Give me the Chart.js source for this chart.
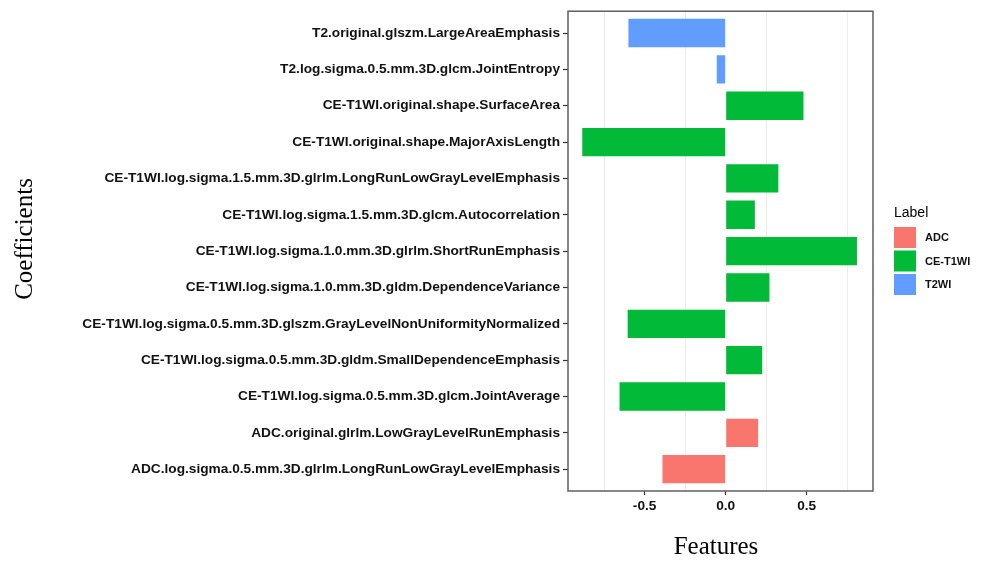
<!DOCTYPE html>
<html>
<head>
<meta charset="utf-8">
<script src="https://cdn.jsdelivr.net/npm/chart.js@4.4.1/dist/chart.umd.min.js"></script>
<style>
  html, body { margin: 0; padding: 0; background: #ffffff; }
  #wrap { width: 987px; height: 562px; position: relative; }
</style>
</head>
<body>
<div id="wrap"><canvas id="chart" width="987" height="562"></canvas></div>
<script>
// Radiomic features, listed top to bottom
const features = [
  'T2.original.glszm.LargeAreaEmphasis',
  'T2.log.sigma.0.5.mm.3D.glcm.JointEntropy',
  'CE-T1WI.original.shape.SurfaceArea',
  'CE-T1WI.original.shape.MajorAxisLength',
  'CE-T1WI.log.sigma.1.5.mm.3D.glrlm.LongRunLowGrayLevelEmphasis',
  'CE-T1WI.log.sigma.1.5.mm.3D.glcm.Autocorrelation',
  'CE-T1WI.log.sigma.1.0.mm.3D.glrlm.ShortRunEmphasis',
  'CE-T1WI.log.sigma.1.0.mm.3D.gldm.DependenceVariance',
  'CE-T1WI.log.sigma.0.5.mm.3D.glszm.GrayLevelNonUniformityNormalized',
  'CE-T1WI.log.sigma.0.5.mm.3D.gldm.SmallDependenceEmphasis',
  'CE-T1WI.log.sigma.0.5.mm.3D.glcm.JointAverage',
  'ADC.original.glrlm.LowGrayLevelRunEmphasis',
  'ADC.log.sigma.0.5.mm.3D.glrlm.LongRunLowGrayLevelEmphasis'
];

// Coefficient of each feature
const coefficients = [-0.60, -0.055, 0.48, -0.885, 0.325, 0.18, 0.81, 0.27, -0.605, 0.225, -0.655, 0.20, -0.39];

// Sequence each feature comes from
const featureLabel = ['T2WI', 'T2WI', 'CE-T1WI', 'CE-T1WI', 'CE-T1WI', 'CE-T1WI', 'CE-T1WI',
  'CE-T1WI', 'CE-T1WI', 'CE-T1WI', 'CE-T1WI', 'ADC', 'ADC'];

// Legend groups and their fills
const groups = ['ADC', 'CE-T1WI', 'T2WI'];
const groupColors = ['#F8766D', '#00BA38', '#619CFF'];

// x-axis range and tick step
const xMin = -0.973;
const xMax = 0.909;
const xStep = 0.25;

// Extra room above the first and below the last category, in category units
const catExpand = 0.6;

const datasets = groups.map((g, gi) => ({
  label: g,
  data: coefficients.map((v, i) => featureLabel[i] === g ? v : null),
  backgroundColor: groupColors[gi],
  borderWidth: 0,
  categoryPercentage: 1.0,
  barPercentage: 0.78
}));

const isMajor = v => Math.abs(v * 2 - Math.round(v * 2)) < 1e-6;
const labelFont = { family: '"Liberation Sans", Arial, sans-serif', size: 13.7, weight: 'bold' };

const decorations = {
  id: 'decorations',
  afterDraw(chart) {
    const ctx = chart.ctx;
    const a = chart.chartArea;
    ctx.save();
    // panel border
    ctx.strokeStyle = '#5f5f5f';
    ctx.lineWidth = 1.5;
    ctx.strokeRect(a.left, a.top, a.right - a.left, a.bottom - a.top);

    // axis titles
    ctx.fillStyle = '#000000';
    ctx.font = '25px "Liberation Serif", "Times New Roman", serif';
    ctx.textAlign = 'center';
    ctx.textBaseline = 'middle';
    ctx.fillText('Features', 716, 547);
    ctx.save();
    ctx.translate(25, 239);
    ctx.rotate(-Math.PI / 2);
    ctx.fillText('Coefficients', 0, 0);
    ctx.restore();

    // legend
    const lx = 894, ly = 227, kw = 22, kh = 21, gap = 23.5;
    ctx.textAlign = 'left';
    ctx.textBaseline = 'middle';
    ctx.font = '14px "Liberation Sans", Arial, sans-serif';
    ctx.fillStyle = '#000000';
    ctx.fillText('Label', lx, 213);
    chart.data.datasets.forEach((ds, i) => {
      const y = ly + i * gap;
      ctx.fillStyle = ds.backgroundColor;
      ctx.fillRect(lx, y, kw, kh);
      ctx.fillStyle = '#111111';
      ctx.font = 'bold 11px "Liberation Sans", Arial, sans-serif';
      ctx.fillText(ds.label, lx + 31, y + kh / 2 + 0.5);
    });
    ctx.restore();
  }
};

new Chart(document.getElementById('chart'), {
  type: 'bar',
  data: { labels: features, datasets },
  options: {
    indexAxis: 'y',
    responsive: false,
    animation: false,
    layout: { padding: { left: 0, right: 114, top: 10, bottom: 0 } },
    plugins: {
      legend: { display: false },
      tooltip: { enabled: false }
    },
    scales: {
      x: {
        type: 'linear',
        stacked: true,
        min: xMin,
        max: xMax,
        afterFit(scale) { scale.height = 71; },
        ticks: {
          stepSize: xStep,
          includeBounds: false,
          autoSkip: false,
          maxRotation: 0,
          padding: 3,
          color: '#111111',
          font: labelFont,
          callback: v => isMajor(v) ? v.toFixed(1) : ''
        },
        grid: {
          color: ctx => (ctx.tick && !isMajor(ctx.tick.value)) ? '#ebebeb' : 'rgba(0,0,0,0)',
          lineWidth: 1,
          tickLength: 4,
          tickColor: ctx => (ctx.tick && isMajor(ctx.tick.value)) ? '#333333' : 'rgba(0,0,0,0)',
          tickWidth: 1.2
        },
        border: { display: false }
      },
      y: {
        type: 'category',
        stacked: true,
        offset: false,
        afterBuildTicks(scale) {
          scale._startValue = scale.min - catExpand;
          scale._valueRange = (scale.max - scale.min) + 2 * catExpand;
        },
        afterFit(scale) { scale.width = 568; },
        ticks: {
          autoSkip: false,
          padding: 3,
          color: '#111111',
          font: labelFont
        },
        grid: {
          offset: false,
          drawOnChartArea: false,
          tickLength: 5,
          tickColor: '#333333',
          tickWidth: 1.2
        },
        border: { display: false }
      }
    }
  },
  plugins: [decorations]
});
</script>
</body>
</html>
